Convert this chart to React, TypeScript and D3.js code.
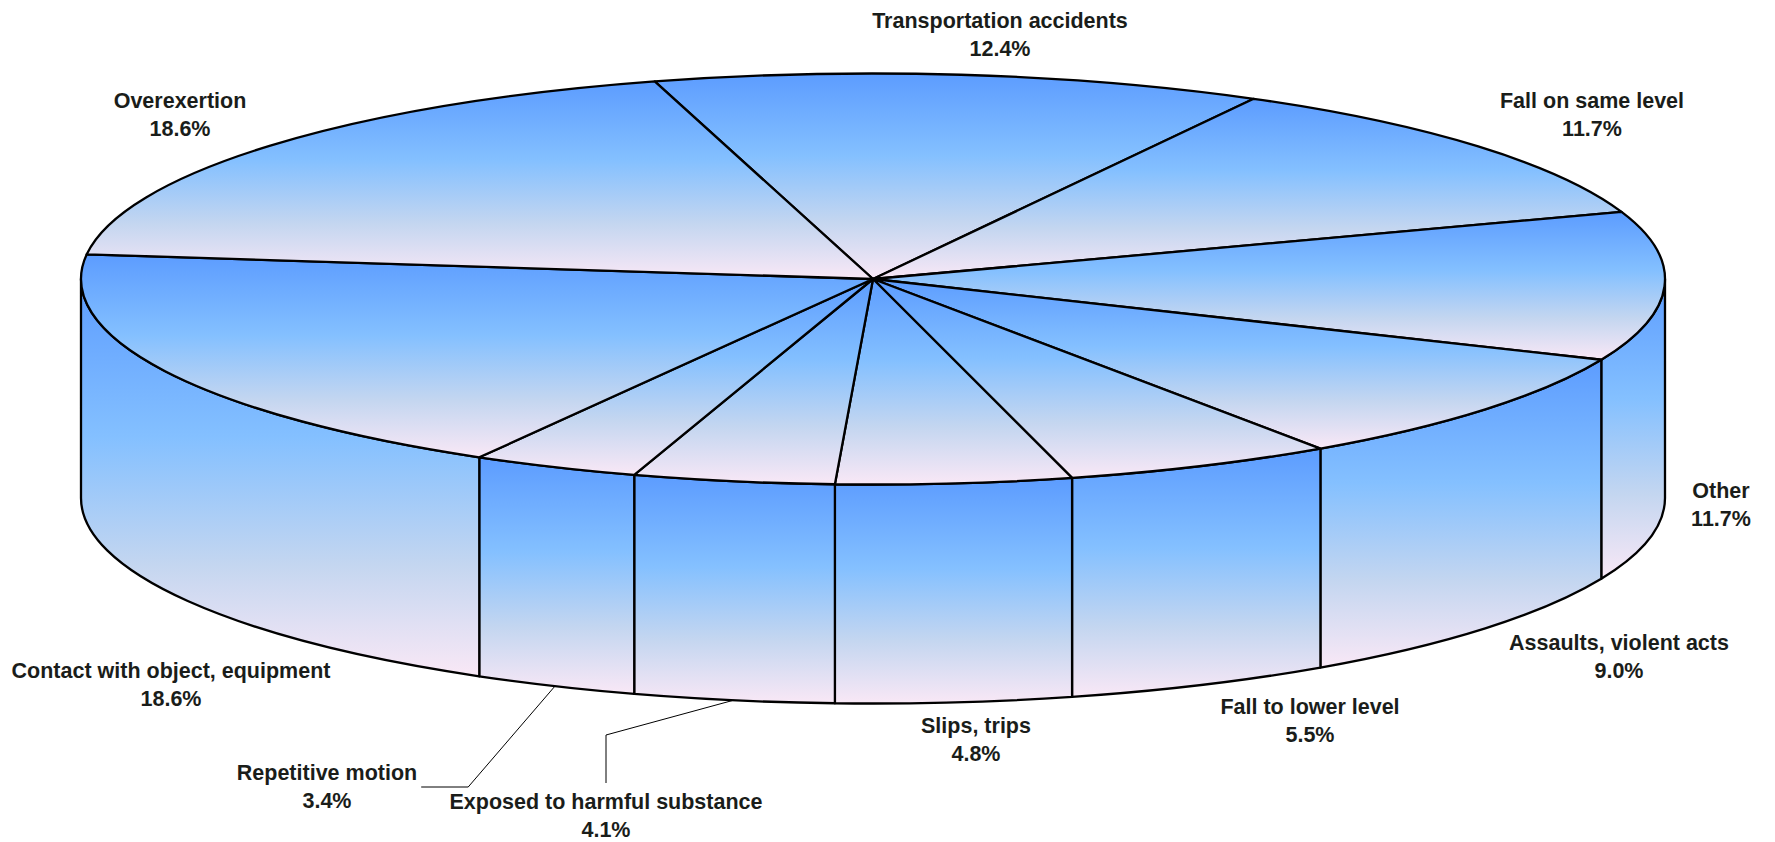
import React, { useEffect, useRef } from "react";
import * as d3 from "d3";

// injury categories, clockwise from the top
const categories = [
    "Transportation accidents",
    "Fall on same level",
    "Other",
    "Assaults, violent acts",
    "Fall to lower level",
    "Slips, trips",
    "Exposed to harmful substance",
    "Repetitive motion",
    "Contact with object, equipment",
    "Overexertion"
];
const shares = [12.4, 11.7, 11.7, 9.0, 5.5, 4.8, 4.1, 3.4, 18.6, 18.6];

// where each label block sits (centre x, first baseline) and how its leader runs
const labelSpots: [number, number, string][] = [
    [1000, 28, ""],
    [1592, 108, ""],
    [1721, 498, ""],
    [1619, 650, ""],
    [1310, 714, ""],
    [976, 733, ""],
    [606, 809, "top"],
    [327, 780, "side"],
    [171, 678, ""],
    [180, 108, ""]
];

function App() {
    const chart = useRef<SVGSVGElement>(null);

    useEffect(() => {
        const width = 1775;
        const height = 842;
        const cx = 873;
        const cy = 279;
        const rx = 792;
        const ry = 205.5;
        const depth = 219;
        const lineGap = 28;
        const edge = 2.3;

        const svg = d3.select(chart.current)
            .attr("width", width)
            .attr("height", height);
        svg.selectAll("*").remove();

        const grad = svg.append("defs")
            .append("linearGradient")
            .attr("id", "shade")
            .attr("x1", 0).attr("y1", 0)
            .attr("x2", 0).attr("y2", 1);
        grad.append("stop").attr("offset", 0).attr("stop-color", "#5c9cff");
        grad.append("stop").attr("offset", 0.4).attr("stop-color", "#84c0ff");
        grad.append("stop").attr("offset", 0.72).attr("stop-color", "#c4d6f0");
        grad.append("stop").attr("offset", 1).attr("stop-color", "#f9e8f6");

        const start = -16 * Math.PI / 180;
        const pie = d3.pie<number>()
            .sort(null)
            .value(d => d)
            .startAngle(start)
            .endAngle(start + 2 * Math.PI);
        const arcs = pie(shares);

        // d3 angles are 0 at 12 o'clock; ellipse parameter is 0 at 3 o'clock
        const toT = (a: number) => a - Math.PI / 2;
        const pt = (t: number, dy = 0) => [cx + rx * Math.cos(t), cy + ry * Math.sin(t) + dy];
        const p = (v: number[]) => v[0].toFixed(2) + "," + v[1].toFixed(2);

        // side walls, only the front half shows
        const walls = svg.append("g");
        arcs.forEach(a => {
            const t1 = Math.max(toT(a.startAngle), 0);
            const t2 = Math.min(toT(a.endAngle), Math.PI);
            if (t2 <= t1) return;
            const d = "M" + p(pt(t1)) +
                "A" + rx + "," + ry + " 0 0 1 " + p(pt(t2)) +
                "L" + p(pt(t2, depth)) +
                "A" + rx + "," + ry + " 0 0 0 " + p(pt(t1, depth)) + "Z";
            walls.append("path")
                .attr("d", d)
                .attr("fill", "url(#shade)")
                .attr("stroke", "#000")
                .attr("stroke-width", edge)
                .attr("stroke-linejoin", "round");
        });

        // top face slices
        svg.append("g")
            .selectAll("path")
            .data(arcs)
            .enter()
            .append("path")
            .attr("d", a => {
                const t1 = toT(a.startAngle);
                const t2 = toT(a.endAngle);
                const large = t2 - t1 > Math.PI ? 1 : 0;
                return "M" + cx + "," + cy + "L" + p(pt(t1)) +
                    "A" + rx + "," + ry + " 0 " + large + " 1 " + p(pt(t2)) + "Z";
            })
            .attr("fill", "url(#shade)")
            .attr("stroke", "#000")
            .attr("stroke-width", edge)
            .attr("stroke-linejoin", "round");

        // labels
        const labels = svg.append("g")
            .attr("font-family", "'Liberation Sans', Arial, sans-serif")
            .attr("font-weight", "bold")
            .attr("font-size", 21.5)
            .attr("fill", "#1a1d1a")
            .attr("text-anchor", "middle");

        arcs.forEach((a, i) => {
            const [x, y, leader] = labelSpots[i];
            const text = labels.append("text")
                .attr("x", x)
                .attr("y", y);
            text.append("tspan").attr("x", x).text(categories[i]);
            text.append("tspan").attr("x", x).attr("dy", lineGap).text(shares[i].toFixed(1) + "%");

            if (!leader) return;
            const mid = toT((a.startAngle + a.endAngle) / 2);
            const from = pt(mid, depth);
            let elbow: number[];
            let end: number[];
            if (leader === "side") {
                const w = (text.select("tspan").node() as SVGTextContentElement).getComputedTextLength();
                end = [x + w / 2 + 4, y + 7];
                elbow = [end[0] + 47, end[1]];
            } else {
                end = [x, y - 26];
                elbow = [x, end[1] - 48];
            }
            svg.append("path")
                .attr("d", "M" + p(from) + "L" + p(elbow) + "L" + p(end))
                .attr("fill", "none")
                .attr("stroke", "#000")
                .attr("stroke-width", 1);
        });

        return () => {
            svg.selectAll("*").remove();
        };
    }, []);

    return (
        <svg ref={chart} style={{ position: "absolute", left: 0, top: 0, display: "block" }}></svg>
    );
}

export default App;
